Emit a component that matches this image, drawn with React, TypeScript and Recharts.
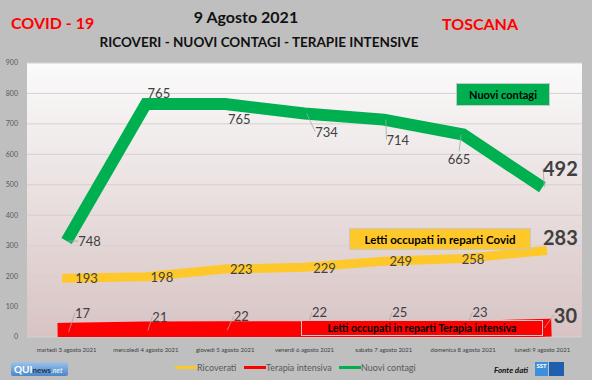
import { LineChart, Line, XAxis, YAxis, CartesianGrid, LabelList } from 'recharts';

const giorni = [
  'martedì 3 agosto 2021',
  'mercoledì 4 agosto 2021',
  'giovedì 5 agosto 2021',
  'venerdì 6 agosto 2021',
  'sabato 7 agosto 2021',
  'domenica 8 agosto 2021',
  'lunedì 9 agosto 2021',
];
const ricoverati = [193, 198, 223, 229, 249, 258, 283];
const terapiaIntensiva = [17, 21, 22, 22, 25, 23, 30];
const nuoviContagi = [315, 765, 765, 734, 714, 665, 492];
// the first label in the source doesn't match where the point is drawn
const nuoviEtichette = ['748', '765', '765', '734', '714', '665', '492'];
const yTicks = [0, 100, 200, 300, 400, 500, 600, 700, 800, 900];

// label offsets from the point: [dx, dy, leader]
const offRicoverati: [number, number, boolean][] = [
  [20, 0, false], [16, 0, false], [16, 0, false], [20, 1, false], [17, 0, false], [10, 1, false], [18, -14, false],
];
const offTerapia: [number, number, boolean][] = [
  [16, -19, true], [14, -14, true], [16, -14, true], [15, -18, true], [16, -17, true], [17, -18, true], [23, -13, true],
];
const offNuovi: [number, number, boolean][] = [
  [23, 0, true], [13, -11, false], [14, 15, false], [22, 18, true], [14, 20, true], [-4, 24, true], [18, -19, true],
];

const data = giorni.map((g, i) => ({
  giorno: g,
  ricoverati: ricoverati[i],
  terapia: terapiaIntensiva[i],
  nuovi: nuoviContagi[i],
}));

const FONT = 'Lato, "Open Sans", sans-serif';

function makeLabel(offsets: [number, number, boolean][], texts?: string[]) {
  return (props: any) => {
    const { x, y, index, value } = props;
    const [dx, dy, leader] = offsets[index];
    const last = index === offsets.length - 1;
    const txt = texts ? texts[index] : String(value);
    const size = last ? 20 : 13;
    const w = txt.length * size * 0.29;
    const lx = x + dx;
    const ly = y + dy;
    return (
      <g>
        {leader && (
          <line
            x1={x + (dx > 0 ? 2 : -2)}
            y1={y}
            x2={dx > 0 ? lx - w : lx}
            y2={dx > 0 ? ly : ly - 7}
            stroke="#a6a6a6"
            strokeWidth={0.8}
          />
        )}
        <text
          x={lx}
          y={ly}
          textAnchor="middle"
          dominantBaseline="central"
          fontSize={size}
          fontWeight={last ? 700 : 400}
          fill="#404040"
          fontFamily={FONT}
        >
          {txt}
        </text>
      </g>
    );
  };
}

const legendItems = [
  { name: 'Ricoverati', color: '#ffc82a', left: 175 },
  { name: 'Terapia intensiva', color: '#ff0000', left: 244 },
  { name: 'Nuovi contagi', color: '#00b050', left: 339 },
];

export default function App() {
  return (
    <div
      style={{
        position: 'absolute',
        left: 0,
        top: 0,
        width: 592,
        height: 380,
        background: '#bfbfbf',
        fontFamily: FONT,
        overflow: 'hidden',
      }}
    >
      <div style={{ position: 'absolute', left: 11, top: 13, color: '#ff0000', fontWeight: 700, fontSize: 16 }}>COVID - 19</div>
      <div style={{ position: 'absolute', left: 442, top: 14, color: '#ff0000', fontWeight: 700, fontSize: 16 }}>TOSCANA</div>
      <div style={{ position: 'absolute', left: 146, width: 200, top: 7, textAlign: 'center', color: '#111', fontWeight: 700, fontSize: 16 }}>
        9 Agosto 2021
      </div>
      <div style={{ position: 'absolute', left: 59, width: 400, top: 34, textAlign: 'center', color: '#111', fontWeight: 700, fontSize: 13.5 }}>
        RICOVERI - NUOVI CONTAGI - TERAPIE INTENSIVE
      </div>

      <LineChart width={592} height={380} data={data} margin={{ top: 63, right: 10, bottom: 23, left: 0 }}>
        <defs>
          <linearGradient id="sfondo" x1="0" y1="0" x2="0" y2="1">
            <stop offset="0%" stopColor="#fbfbfb" />
            <stop offset="100%" stopColor="#d8c3c3" />
          </linearGradient>
        </defs>
        <CartesianGrid vertical={false} fill="url(#sfondo)" stroke="#d6d0d0" strokeWidth={1} />
        <XAxis
          dataKey="giorno"
          interval={0}
          height={20}
          padding={{ left: 39.6, right: 39.6 }}
          axisLine={false}
          tickLine={false}
          tickSize={0}
          tickMargin={11}
          tick={{ fontSize: 6, fill: '#404040', fontFamily: FONT }}
        />
        <YAxis
          width={27}
          domain={[0, 900]}
          ticks={yTicks}
          allowDataOverflow
          axisLine={false}
          tickLine={false}
          tickSize={0}
          tickMargin={9}
          tick={{ fontSize: 7, fill: '#595959', fontFamily: FONT }}
        />
        <Line
          dataKey="terapia"
          stroke="#ff0000"
          strokeWidth={18}
          strokeLinecap="square"
          strokeLinejoin="miter"
          dot={false}
          activeDot={false}
          isAnimationActive={false}
        >
          <LabelList dataKey="terapia" content={makeLabel(offTerapia)} />
        </Line>
        <Line
          dataKey="ricoverati"
          stroke="#ffc82a"
          strokeWidth={9}
          strokeLinecap="square"
          strokeLinejoin="miter"
          dot={false}
          activeDot={false}
          isAnimationActive={false}
        >
          <LabelList dataKey="ricoverati" content={makeLabel(offRicoverati)} />
        </Line>
        <Line
          dataKey="nuovi"
          stroke="#00b050"
          strokeWidth={12}
          strokeLinecap="butt"
          strokeLinejoin="miter"
          dot={false}
          activeDot={false}
          isAnimationActive={false}
        >
          <LabelList dataKey="nuovi" content={makeLabel(offNuovi, nuoviEtichette)} />
        </Line>
      </LineChart>

      {/* callout boxes */}
      <div
        style={{
          position: 'absolute', left: 456, top: 83, width: 94, height: 23, background: '#00b050',
          border: '1px solid #c8c8c8', boxSizing: 'border-box', fontWeight: 700, fontSize: 11, color: '#000',
          display: 'flex', alignItems: 'center', justifyContent: 'center',
        }}
      >
        Nuovi contagi
      </div>
      <div
        style={{
          position: 'absolute', left: 349, top: 228, width: 182, height: 22, background: '#ffc82a',
          border: '1px solid #c8c8c8', boxSizing: 'border-box', fontWeight: 700, fontSize: 11.5, color: '#000',
          display: 'flex', alignItems: 'center', justifyContent: 'center',
        }}
      >
        Letti occupati in reparti Covid
      </div>
      <div
        style={{
          position: 'absolute', left: 301, top: 320, width: 242, height: 16, background: '#ff0000',
          border: '1px solid #c8c8c8', boxSizing: 'border-box', fontWeight: 700, fontSize: 10.5, color: '#000',
          display: 'flex', alignItems: 'center', justifyContent: 'center',
        }}
      >
        Letti occupati in reparti Terapia intensiva
      </div>

      {/* legend */}
      {legendItems.map((it) => (
        <div key={it.name} style={{ position: 'absolute', left: it.left, top: 362, display: 'flex', alignItems: 'center', fontSize: 9, color: '#595959' }}>
          <span style={{ display: 'inline-block', width: 22, height: 3, background: it.color }} />
          <span>{it.name}</span>
        </div>
      ))}

      {/* footer logos */}
      <div
        style={{
          position: 'absolute', left: 11, top: 362, width: 57, height: 14, borderRadius: 2,
          background: 'linear-gradient(#9cc3ea, #4a86c8)', fontSize: 10, lineHeight: '14px', fontWeight: 700,
          paddingLeft: 3, boxSizing: 'border-box', whiteSpace: 'nowrap',
        }}
      >
        <span style={{ color: '#fff' }}>QUI</span>
        <span style={{ color: '#1d3557', fontSize: 8 }}>news</span>
        <span style={{ color: '#dbe8f7', fontSize: 7, fontStyle: 'italic' }}>.net</span>
      </div>
      <div style={{ position: 'absolute', left: 494, top: 365, fontSize: 8, fontStyle: 'italic', fontWeight: 700, color: '#111' }}>
        Fonte dati
      </div>
      <div style={{ position: 'absolute', left: 535, top: 362, width: 29, height: 14, display: 'flex' }}>
        <div style={{ width: 13, height: 14, background: '#3c8fd8', color: '#fff', fontSize: 6, fontWeight: 700, textAlign: 'center', lineHeight: '8px' }}>
          SST
        </div>
        <div style={{ width: 15, height: 14, background: '#1f5fae', marginLeft: 1 }} />
      </div>
    </div>
  );
}
